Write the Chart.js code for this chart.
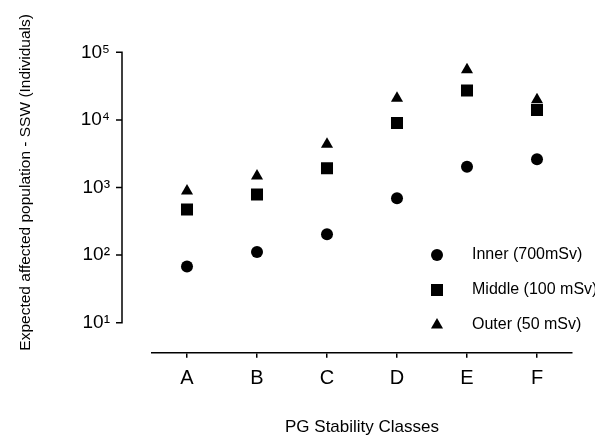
<!DOCTYPE html>
<html>
<head>
<meta charset="utf-8">
<script src="https://cdn.jsdelivr.net/npm/chart.js@4/dist/chart.umd.min.js"></script>
<style>
  html, body { margin: 0; padding: 0; background: #fff; }
</style>
</head>
<body>
<canvas id="chart" width="595" height="439"></canvas>
<script>
// PG stability classes on x, affected population (log) on y
var classes = ['A', 'B', 'C', 'D', 'E', 'F'];
var innerPop = [68, 111, 204, 692, 2030, 2620];
var middlePop = [473, 787, 1930, 9000, 27200, 14000];
var outerPop = [890, 1480, 4350, 20900, 55300, 19900];
var seriesNames = ['Inner (700mSv)', 'Middle (100 mSv)', 'Outer (50 mSv)'];
var decades = [10, 100, 1000, 10000, 100000];
var sup = { 1: '\u00b9', 2: '\u00b2', 3: '\u00b3', 4: '\u2074', 5: '\u2075' };

Chart.defaults.font.family = "'Liberation Sans', Arial, sans-serif";
Chart.defaults.color = '#000';

// y axis is drawn detached from the plot (prism style) + the key inside the plot
var sideAxis = {
  id: 'sideAxis',
  afterDraw: function(chart) {
    var ctx = chart.ctx;
    var y = chart.scales.y;
    var ax = chart.chartArea.left - 30;
    var top = y.getPixelForValue(decades[decades.length - 1]);
    var bot = y.getPixelForValue(decades[0]);
    ctx.save();
    ctx.strokeStyle = '#000';
    ctx.lineWidth = 1.5;
    ctx.beginPath();
    ctx.moveTo(ax, top - 0.75);
    ctx.lineTo(ax, bot + 0.75);
    decades.forEach(function(v) {
      var py = y.getPixelForValue(v);
      ctx.moveTo(ax - 6, py);
      ctx.lineTo(ax, py);
    });
    ctx.stroke();

    // key
    var keyX = 437, textX = 472, rowY = 255;
    ctx.fillStyle = '#000';
    ctx.font = "16px 'Liberation Sans', Arial, sans-serif";
    ctx.textBaseline = 'middle';
    ctx.textAlign = 'left';
    chart.data.datasets.forEach(function(ds, i) {
      var cy = rowY + i * 35;
      Chart.helpers.drawPoint(ctx, { pointStyle: ds.pointStyle, radius: ds.pointRadius, rotation: 0, borderWidth: 0 }, keyX, cy);
      ctx.fillText(ds.label, textX, cy);
    });
    ctx.restore();
  }
};

var ctx = document.getElementById('chart');
var chart = new Chart(ctx, {
  type: 'line',
  data: {
    labels: classes,
    datasets: [
      { label: seriesNames[0], data: innerPop, pointStyle: 'circle', pointRadius: 6 },
      { label: seriesNames[1], data: middlePop, pointStyle: 'rect', pointRadius: 8.5 },
      { label: seriesNames[2], data: outerPop, pointStyle: 'triangle', pointRadius: 7 }
    ].map(function(d) {
      d.showLine = false;
      d.backgroundColor = '#000';
      d.borderColor = '#000';
      d.borderWidth = 0;
      d.pointHoverRadius = d.pointRadius;
      return d;
    })
  },
  options: {
    responsive: false,
    animation: false,
    layout: { padding: { top: 12, right: 23, left: 0, bottom: 0 } },
    plugins: { legend: { display: false }, tooltip: { enabled: false } },
    scales: {
      x: {
        type: 'category',
        offset: true,
        border: { display: true, color: '#000', width: 1.5 },
        grid: { display: true, drawOnChartArea: false, drawTicks: true, tickLength: 5, color: '#000', lineWidth: 1.5 },
        ticks: { font: { size: 20 }, padding: 9, color: '#000' },
        title: { display: true, text: 'PG Stability Classes', font: { size: 17 }, padding: { top: 10, bottom: 1 }, color: '#000' },
        afterFit: function(s) { s.height = 86.3; }
      },
      y: {
        type: 'logarithmic',
        min: Math.pow(10, 1 - 30 / 67.6),
        max: Math.pow(10, 5 + 40.3 / 67.6),
        border: { display: false },
        grid: { display: true, drawOnChartArea: false, drawTicks: true, tickLength: 42, color: 'rgba(0,0,0,0)' },
        afterBuildTicks: function(s) {
          s.ticks = decades.map(function(v) { return { value: v }; });
        },
        ticks: {
          font: { size: 19 },
          padding: 0,
          color: '#000',
          callback: function(v) {
            var e = Math.round(Math.log10(v));
            return '10' + sup[e];
          }
        },
        title: { display: true, text: 'Expected affected population - SSW (Individuals)', font: { size: 15.5 }, padding: { top: 16, bottom: 0 }, color: '#000' },
        afterFit: function(s) { s.width = 152; }
      }
    }
  },
  plugins: [sideAxis]
});
</script>
</body>
</html>
